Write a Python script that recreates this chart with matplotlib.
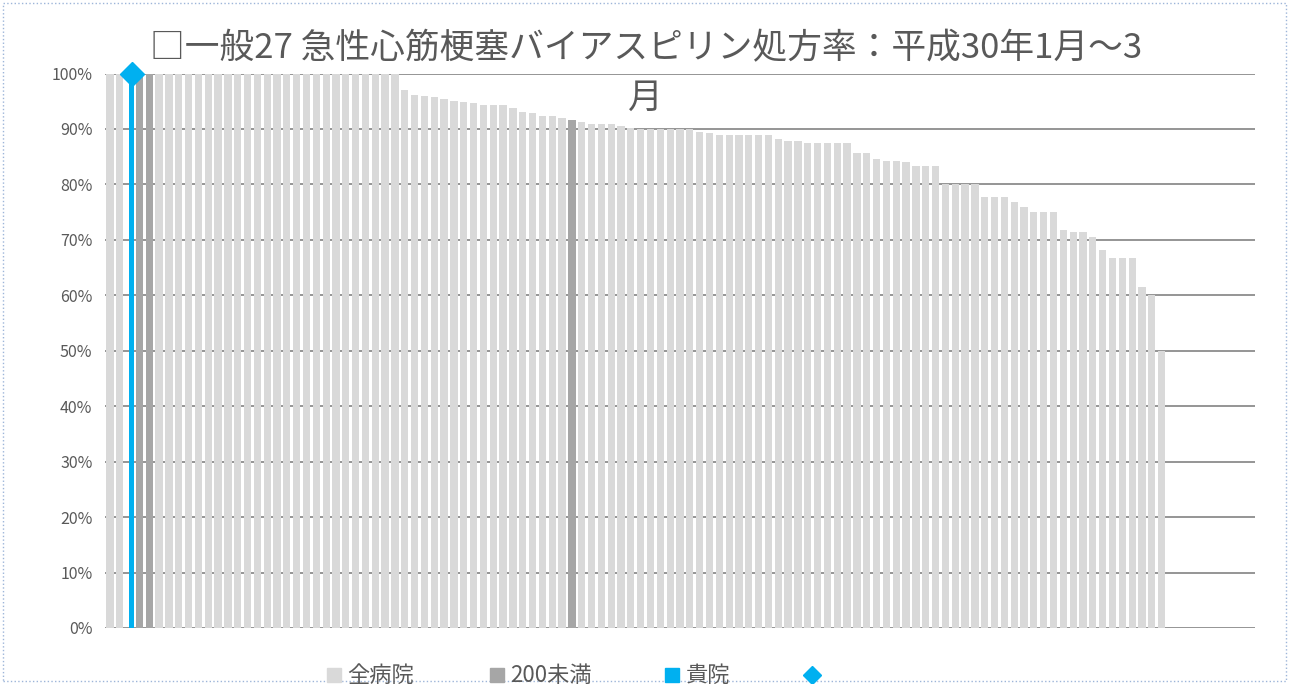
import matplotlib
matplotlib.use("Agg")
import matplotlib.pyplot as plt
from matplotlib.lines import Line2D
from matplotlib.patches import Rectangle
from matplotlib.ticker import PercentFormatter

plt.rcParams['font.family'] = ['Noto Sans CJK JP', 'DejaVu Sans']

# ---- data ----
values = [
    1.000, 1.000, 1.000, 1.000, 1.000, 1.000, 1.000, 1.000, 1.000, 1.000,
    1.000, 1.000, 1.000, 1.000, 1.000, 1.000, 1.000, 1.000, 1.000, 1.000,
    1.000, 1.000, 1.000, 1.000, 1.000, 1.000, 1.000, 1.000, 1.000, 1.000,
    0.970, 0.961, 0.960, 0.958, 0.954, 0.950, 0.948, 0.947, 0.944, 0.944,
    0.944, 0.937, 0.931, 0.928, 0.923, 0.923, 0.919, 0.916, 0.913, 0.909,
    0.909, 0.909, 0.905, 0.902, 0.900, 0.900, 0.900, 0.900, 0.900, 0.900,
    0.894, 0.892, 0.889, 0.889, 0.889, 0.889, 0.889, 0.889, 0.882, 0.879,
    0.879, 0.875, 0.875, 0.875, 0.875, 0.875, 0.857, 0.857, 0.846, 0.842,
    0.842, 0.840, 0.833, 0.833, 0.833, 0.800, 0.800, 0.800, 0.800, 0.778,
    0.778, 0.778, 0.769, 0.759, 0.750, 0.750, 0.750, 0.718, 0.714, 0.714,
    0.706, 0.682, 0.667, 0.667, 0.667, 0.615, 0.600, 0.500,
]
n_categories = 117           # category slots on the axis (last ones empty)
under200_positions = [4, 5, 48]   # 1-based positions of the "200未満" bars
own_position = 3                  # 1-based position of 貴院
own_value = 1.000

series_names = ['全病院', '200未満', '貴院']
yticks = [i / 10 for i in range(11)]

c_light = '#D9D9D9'
c_dark = '#A6A6A6'
c_blue = '#00B0F0'
c_text = '#595959'

W, H = 1289, 684
fig = plt.figure(figsize=(W / 100, H / 100), dpi=100)
ax = fig.add_axes([105 / W, 1 - 628 / H, 1150 / W, (628 - 73.5) / H])

light_x, light_v, dark_x, dark_v = [], [], [], []
for i, v in enumerate(values):
    pos = i + 1
    if pos == own_position:
        continue
    if pos in under200_positions:
        dark_x.append(i); dark_v.append(v)
    else:
        light_x.append(i); light_v.append(v)

ax.bar(light_x, light_v, width=0.74, color=c_light, zorder=2)
ax.bar(dark_x, dark_v, width=0.74, color=c_dark, zorder=2)
ax.bar([own_position - 1 + 0.2], [own_value], width=0.6, color=c_blue, zorder=3)
ax.plot([own_position - 1 + 0.2], [own_value], marker='D', markersize=12,
        color=c_blue, linestyle='none', zorder=4, clip_on=False)

ax.set_xlim(-0.5, n_categories - 0.5)
ax.set_ylim(0, 1.0)
ax.set_yticks(yticks)
ax.yaxis.set_major_formatter(PercentFormatter(1.0, decimals=0))
ax.set_xticks([])
ax.tick_params(axis='y', length=0, labelsize=11.5, labelcolor=c_text, pad=9)
for s in ax.spines.values():
    s.set_visible(False)
ax.grid(axis='y', color='#8C8C8C', linewidth=1.3, zorder=0)
ax.set_axisbelow(True)

fig.text(0.501, 1 - 31 / H,
         '□一般27 急性心筋梗塞バイアスピリン処方率：平成30年1月～3\n月',
         ha='center', va='top', fontsize=25, color=c_text,
         multialignment='center', linespacing=1.55)

# legend drawn manually for exact placement
leg_y = 1 - 675 / H
markers = [('s', c_light, 334, 10), ('s', c_dark, 497, 10),
           ('s', c_blue, 672, 10), ('D', c_blue, 812, 9)]
for m, c, xpx, ms in markers:
    fig.add_artist(Line2D([xpx / W], [leg_y], marker=m, color=c, markersize=ms,
                          linestyle='none', transform=fig.transFigure))
for name, xpx in zip(series_names, [347, 510, 686]):
    fig.text(xpx / W, leg_y, name, ha='left', va='center', fontsize=16,
             color=c_text)

fig.patches.append(Rectangle((3 / W, 3 / H), (W - 6) / W, (H - 6) / H,
                             transform=fig.transFigure, fill=False,
                             edgecolor='#9DB5D9', linestyle=':', linewidth=1))

fig.savefig('out.png', dpi=100)
